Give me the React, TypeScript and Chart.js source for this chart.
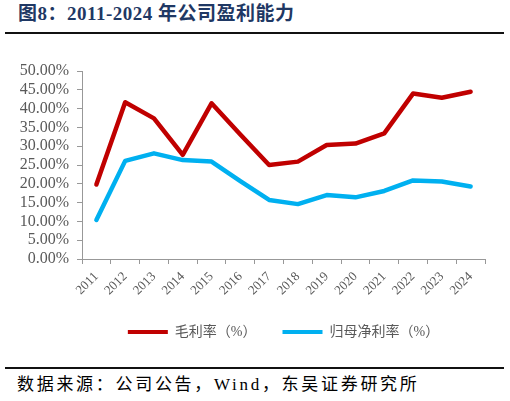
import React, { useEffect, useRef } from 'react';
import Chart from 'chart.js/auto';

const years = ['2011', '2012', '2013', '2014', '2015', '2016', '2017', '2018', '2019', '2020', '2021', '2022', '2023', '2024'];
const grossMargin = [19.8, 41.7, 37.4, 27.7, 41.4, 33.1, 25.0, 25.9, 30.3, 30.7, 33.4, 44.0, 42.9, 44.5];
const netMargin = [10.4, 26.1, 28.1, 26.3, 25.9, 20.7, 15.7, 14.6, 17.0, 16.4, 18.1, 20.9, 20.6, 19.3];
const seriesNames = ['毛利率（%）', '归母净利率（%）'];

const axisGray = '#989898';
const textGray = '#595959';
const serif = "'Liberation Serif', 'Noto Sans CJK SC', serif";

const App = () => {
  const canvasRef = useRef<HTMLCanvasElement>(null);

  useEffect(() => {
    const canvas = canvasRef.current;
    let chart: Chart<'line', number[], string> | null = null;

    if (canvas) {
      chart = new Chart(canvas, {
        type: 'line',
        data: {
          labels: years,
          datasets: [
            {
              label: seriesNames[0],
              data: grossMargin,
              borderColor: '#c00000',
              backgroundColor: '#c00000',
              borderWidth: 4.5,
              pointRadius: 0,
              tension: 0,
              borderCapStyle: 'round',
              borderJoinStyle: 'round',
            },
            {
              label: seriesNames[1],
              data: netMargin,
              borderColor: '#00b0f0',
              backgroundColor: '#00b0f0',
              borderWidth: 4.5,
              pointRadius: 0,
              tension: 0,
              borderCapStyle: 'round',
              borderJoinStyle: 'round',
            },
          ],
        },
        options: {
          responsive: true,
          maintainAspectRatio: false,
          animation: false,
          layout: { padding: { top: 71, right: 25, left: 0, bottom: 0 } },
          scales: {
            x: {
              offset: true,
              grid: { display: true, offset: true, drawOnChartArea: false, color: axisGray, tickLength: 5 },
              border: { display: true, color: axisGray, width: 1 },
              ticks: {
                color: textGray,
                font: { family: serif, size: 13 },
                minRotation: 45,
                maxRotation: 45,
                autoSkip: false,
                padding: 5,
              },
              afterFit: (s) => {
                s.height = 40;
              },
            },
            y: {
              min: 0,
              max: 50,
              grid: { display: true, drawOnChartArea: false, color: axisGray, tickLength: 5 },
              border: { display: true, color: axisGray, width: 1 },
              ticks: {
                stepSize: 5,
                autoSkip: false,
                color: textGray,
                font: { family: serif, size: 16 },
                padding: 8,
                callback: (v) => Number(v).toFixed(2) + '%',
              },
              afterFit: (s) => {
                s.width = 82;
              },
            },
          },
          plugins: {
            title: { display: false },
            tooltip: { enabled: false },
            legend: {
              position: 'bottom',
              fullSize: false,
              labels: {
                boxWidth: 40,
                boxHeight: 4,
                padding: 26,
                color: textGray,
                font: { family: serif, size: 14 },
                generateLabels: (c) =>
                  Chart.defaults.plugins.legend.labels
                    .generateLabels(c)
                    .map((l) => ({ ...l, lineWidth: 0 })),
              },
            },
          },
        },
      });
    }

    return () => {
      if (chart) {
        chart.destroy();
      }
    };
  }, []);

  return (
    <div style={{ position: 'absolute', left: 0, top: 0, width: 510, height: 401, background: '#fff', overflow: 'hidden' }}>
      <div
        style={{
          position: 'absolute',
          left: 18,
          top: 3,
          fontFamily: serif,
          fontWeight: 'bold',
          fontSize: 19,
          lineHeight: '22px',
          letterSpacing: '0.5px',
          color: '#1f3864',
          whiteSpace: 'nowrap',
        }}
      >
        图8：2011-2024 年公司盈利能力
      </div>
      <div style={{ position: 'absolute', left: 5, top: 32, width: 499, height: 2, background: '#111' }} />
      <div style={{ position: 'absolute', left: 0, top: 0, width: 510, height: 349 }}>
        <canvas ref={canvasRef}></canvas>
      </div>
      <div style={{ position: 'absolute', left: 5, top: 367, width: 499, height: 2, background: '#111' }} />
      <div
        style={{
          position: 'absolute',
          left: 17,
          top: 375,
          fontFamily: serif,
          fontSize: 17,
          lineHeight: '20px',
          letterSpacing: '2.7px',
          color: '#000',
          whiteSpace: 'nowrap',
        }}
      >
        数据来源：公司公告，Wind，东吴证券研究所
      </div>
    </div>
  );
};

export default App;
